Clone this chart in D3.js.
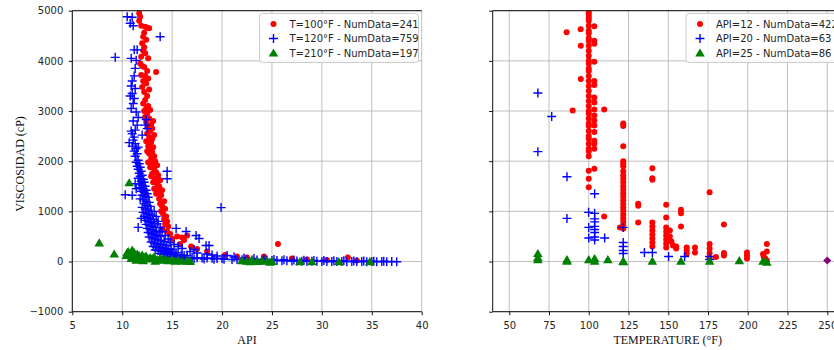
<!DOCTYPE html>
<html>
<head>
<meta charset="utf-8">
<script src="https://cdn.jsdelivr.net/npm/d3@7"></script>
<style>
  body { margin: 0; background: #fff; }
  svg { display: block; }
  .tick text { font-family: "DejaVu Sans", sans-serif; font-size: 10px; fill: #262626; }
  .lbl { font-family: "Liberation Serif", "DejaVu Serif", serif; font-size: 12px; fill: #111; }
  .leg { font-family: "DejaVu Sans", sans-serif; font-size: 10px; fill: #262626; }
</style>
</head>
<body>
<svg id="chart" width="834" height="350"></svg>
<script>
// ticks
const yTicks = [-1000, 0, 1000, 2000, 3000, 4000, 5000]
const leftXTicks = [5, 10, 15, 20, 25, 30, 35, 40]
const rightXTicks = [50, 75, 100, 125, 150, 175, 200, 225, 250]

const leftLabels = ["T=100°F - NumData=241", "T=120°F - NumData=759", "T=210°F - NumData=197"]
const rightLabels = ["API=12 - NumData=422", "API=20 - NumData=63", "API=25 - NumData=86"]

// left panel: [API, viscosidad]
const t100 = [
  [11.7,4950],[11.8,4880],[11.7,4800],[11.9,4700],[12.3,4680],[12.5,4660],[12.7,4650],[12.2,4560],[12.1,4480],
  [12.4,4420],[12.0,4350],[12.2,4270],[12.1,4200],[12.3,4150],[11.9,4080],[12.6,4050],[11.8,3950],[12.0,3900],
  [12.2,3880],[12.5,3800],[13.4,3780],[11.9,3720],[12.3,3700],[12.6,3650],[12.1,3600],[12.4,3550],[12.0,3480],
  [12.7,3430],[12.2,3380],[12.5,3300],[12.3,3220],[12.1,3150],[12.6,3100],[12.4,3050],[12.2,3000],[12.8,3020],
  [12.5,2950],[12.3,2880],[12.7,2850],[13.1,2800],[12.4,2780],[12.9,2720],[12.6,2680],[13.0,2650],[12.8,2600],
  [12.5,2550],[13.2,2520],[12.7,2480],[13.0,2450],[12.4,2400],[12.9,2380],[12.6,2300],[13.1,2280],[12.8,2250],
  [12.5,2200],[13.0,2180],[12.7,2150],[13.2,2100],[12.9,2050],[13.3,2000],[12.6,1980],[13.0,1950],[13.5,1920],
  [12.8,1880],[13.2,1850],[13.4,1780],[13.0,1750],[13.6,1720],[12.9,1700],[13.3,1650],[13.8,1620],[13.1,1580],
  [13.5,1550],[13.7,1500],[13.2,1450],[14.0,1420],[13.6,1400],[13.4,1350],[13.9,1320],[13.7,1250],[14.2,1200],
  [13.8,1150],[14.0,1100],[14.3,1050],[13.9,1000],[14.1,950],[14.4,900],[14.2,850],[14.5,800],[14.3,750],
  [14.6,700],[14.0,650],[14.5,600],[14.8,550],[15.0,450],[15.5,500],[16.0,480],[16.2,430],[16.5,520],
  [15.8,350],[16.9,300],[17.5,250],[18.5,200],[20.3,130],[21.5,100],[22.5,80],[24.2,100],[25.6,350],
  [27.0,60],[28.5,40],[30.5,30],[32.6,80],[33.5,20]
]

const t120 = [
  [10.5,4880],[11.0,4870],[10.8,4750],[11.1,4700],[13.8,4480],[9.3,4070],[10.9,4050],[11.2,4220],[11.5,4220],
  [11.4,4010],[11.3,3850],[11.2,3700],[11.0,3600],[10.9,3500],[11.3,3450],[11.0,3350],[10.8,3300],[11.2,3250],
  [11.1,3150],[10.9,3050],[11.4,2980],[11.6,2870],[12.4,2830],[11.1,2800],[11.5,2720],[11.3,2620],[12.3,2720],
  [10.7,2370],[11.6,2280],[12.0,2520],[12.5,2650],[14.5,1800],[14.5,1650],[10.3,1330],[11.0,1320],[11.6,680],
  [11.9,860],[11.3,1550],[11.4,1450],[19.9,1075],[15.4,660],[16.4,600],[17.4,520],[17.7,460],[18.4,320],[18.7,320],
  [10.9,2600],[11.0,2550],[11.2,2480],[11.1,2420],[11.3,2350],[11.0,2300],[11.4,2250],[11.2,2200],[11.5,2150],
  [11.3,2100],[11.6,2020],[11.4,1980],[11.7,1950],[11.5,1900],[11.8,1880],[11.6,1840],[11.9,1800],[11.7,1760],
  [12.0,1720],[11.8,1700],[11.6,1660],[12.1,1640],[11.9,1600],[12.2,1580],[11.7,1550],[12.0,1520],[12.3,1500],
  [11.8,1470],[12.1,1450],[12.4,1420],[11.9,1400],[12.2,1380],[12.5,1350],[12.0,1320],[12.3,1300],[12.6,1280],
  [11.8,1250],[12.1,1230],[12.4,1200],[12.7,1180],[12.2,1150],[12.5,1120],[12.8,1100],[12.0,1080],[12.3,1050],
  [12.6,1030],[12.9,1000],[12.1,980],[12.4,960],[12.7,940],[13.0,920],[12.2,900],[12.5,880],[12.8,860],
  [13.1,840],[12.3,820],[12.6,800],[12.9,780],[13.2,760],[13.5,750],[12.4,740],[12.7,720],[13.0,700],
  [13.3,680],[12.5,660],[12.8,640],[13.1,620],[13.4,600],[13.7,590],[12.6,580],[12.9,560],[13.2,540],
  [13.5,520],[13.8,500],[12.7,490],[13.0,470],[13.3,450],[13.6,430],[13.9,420],[14.2,400],[12.9,390],
  [13.2,370],[13.5,350],[13.8,340],[14.1,330],[14.4,320],[13.1,300],[13.4,290],[13.7,280],[14.0,270],
  [14.3,260],[14.6,250],[14.9,240],[13.3,230],[13.6,220],[13.9,210],[14.2,200],[14.5,195],[14.8,190],
  [15.1,180],[15.4,175],[13.8,160],[14.1,155],[14.4,150],[14.7,145],[15.0,140],[15.3,135],[15.6,130],
  [15.9,125],[16.2,120],[16.5,115],[14.5,100],[15.0,95],[15.5,90],[16.0,85],[16.5,80],[17.0,78],
  [17.5,75],[18.0,70],[18.5,68],[19.0,65],[19.5,62],[20.0,60],[16.2,60],[17.2,55],[18.2,50],
  [19.2,48],[20.2,45],[21.0,42],[21.5,40],[22.0,38],[22.5,35],[23.0,32],[23.5,30],[24.0,28],
  [24.5,25],[25.0,22],[25.5,20],[26.0,18],[26.5,15],[27.0,12],[27.5,10],[28.0,8],[28.5,6],
  [29.0,5],[29.5,4],[30.0,3],[30.5,2],[31.0,1],[31.5,0],[32.0,0],[32.5,-2],[33.0,0],
  [33.5,-3],[34.0,0],[34.5,-2],[35.0,0],[35.5,-5],[36.0,0],[36.5,-4],[37.0,0],[37.5,-3],
  [20.5,120],[21.2,90],[22.2,70],[23.2,60],[24.2,50],[25.2,40],[26.2,35],[27.2,30],[28.2,25],
  [29.2,20],[30.2,20],[31.2,15],[32.2,15],[33.2,10],[34.2,10],[35.2,8],[36.2,5],[18.5,150],
  [19.0,130],[19.5,110],[17.5,170],[16.8,200],[17.2,240],[16.0,260],[15.6,300],[15.2,340],[14.8,380],
  [14.6,450],[14.3,520],[14.0,600],[13.8,680],[13.6,800],[13.4,900],[13.2,1000]
]

const t210 = [
  [7.7,370],[9.2,150],[10.7,1570],[10.4,120],[10.5,180],[10.6,200],[10.8,150],[11.0,230],[11.0,100],
  [11.2,180],[11.3,80],[11.5,150],[11.7,120],[11.8,60],[12.0,130],[12.2,90],[12.4,110],[12.6,50],
  [12.8,80],[13.0,60],[13.2,90],[13.5,40],[13.8,70],[14.0,30],[14.3,50],[14.6,20],[15.0,40],
  [15.3,10],[15.6,30],[16.0,10],[16.5,20],[16.8,5],[11.4,30],[12.1,20],[13.3,10],[10.9,60],
  [22.0,20],[22.5,10],[23.0,30],[23.5,5],[24.0,20],[24.5,10],[25.0,5],[27.8,0],[29.0,0],
  [31.7,0],[34.8,0],[24.8,-10],[22.8,0]
]

// right panel: [temperatura, viscosidad]
const api12 = [
  [100,5000],[100,4950],[100,4900],[100,4850],[100,4800],[100,4700],[100,4600],[100,4550],[100,4450],
  [100,4400],[100,4300],[100,4200],[100,4100],[100,4000],[100,3950],[100,3850],[100,3800],[100,3700],
  [100,3600],[100,3500],[100,3400],[100,3300],[100,3200],[100,3100],[100,3000],[100,2950],[100,2850],
  [100,2750],[100,2700],[100,2600],[100,2500],[100,2450],[100,2350],[100,2250],[100,2200],[100,2100],
  [100,1810],[100,1650],[100,1480],
  [103.5,4690],[103.5,4400],[103.5,4340],[103.5,3980],[103.5,3600],[103.5,3520],[103.5,3270],[103.5,3170],
  [103.5,3030],[103.5,2910],[103.5,2810],[103.5,2710],[103.5,2580],[103.5,2410],[103.5,2350],[103.5,2250],[103.5,1850],
  [86.1,4570],[94.9,4630],[95,4300],[95,3640],[89.9,3010],[109.7,3030],[109.7,900],[119.6,680],
  [121.7,2750],[121.7,2700],[121.7,2300],[121.7,2000],[121.7,1950],[121.7,1900],[121.7,1800],[121.7,1720],
  [121.7,1650],[121.7,1580],[121.7,1500],[121.7,1430],[121.7,1360],[121.7,1290],[121.7,1220],[121.7,1150],
  [121.7,1080],[121.7,1010],[121.7,940],[121.7,870],[121.7,800],[121.7,730],[121.7,660],
  [131.1,1150],[131.1,1110],[131.1,780],
  [140,1860],[140,1660],[140,1630],[140,780],[140,700],[140,620],[140,540],[140,460],[140,380],[140,300],
  [148.7,1130],[148.7,880],[148.7,680],[148.7,600],[148.7,520],[148.7,440],[148.7,360],[148.7,280],
  [151,620],[151,500],[152,400],[153,320],[155,300],[155,260],
  [158,1030],[158,960],[158,700],[161.6,280],[161.6,220],[161.6,150],[166.8,280],[166.8,180],
  [176,1380],[176,350],[176,260],[176,170],[176,80],[180,90],[185,740],[185,170],[185,120],
  [199.5,180],[199.5,120],[199.5,60],[209.6,150],[210,100],[211,60],[212,350],[212,200],[212,20]
]

const api20 = [
  [68,3360],[76.7,2890],[68,2190],[86.3,1690],[86.3,860],[103.7,1350],[99.9,980],[103.7,960],[103.7,850],
  [103.7,790],[103.7,700],[103.7,640],[103.7,580],[103.7,490],[103.7,430],[100,680],[100,470],[110,470],
  [121.7,680],[121.7,380],[121.7,300],[121.7,220],[121.7,160],[135,180],[140,180],[150.2,100],[160.3,100],
  [176,100],[176,40]
]

const api25 = [
  [68,160],[68,80],[68,40],[86.3,40],[86.3,10],[100,40],[103.7,60],[103.7,10],[112,40],[121.7,10],
  [121.7,0],[140,10],[158,10],[176,10],[194.7,20],[209.6,10],[212,-10]
]

const extra = [[250,20]]

const svg = d3.select("#chart")
const plotTop = 10.7, plotBottom = 311.7

const y = d3.scaleLinear().domain([-1000, 5000]).range([plotBottom, plotTop])

const markers = {
  dot: g => g.append("circle").attr("r", 3).attr("fill", "#ff0000"),
  plus: g => g.append("path").attr("d", "M-4.5,0H4.5M0,-4.5V4.5").attr("stroke", "#0000ff").attr("stroke-width", 1.4).attr("fill", "none"),
  tri: g => g.append("path").attr("d", "M0,-4.6L4.8,3.6L-4.8,3.6Z").attr("fill", "#008000"),
  dia: g => g.append("path").attr("d", "M0,-4L4,0L0,4L-4,0Z").attr("fill", "#800080")
}

function drawPanel(opts) {
  const x = d3.scaleLinear().domain(opts.domain).range(opts.range)
  const left = opts.range[0], right = opts.range[1]
  const id = opts.id

  svg.append("clipPath").attr("id", id)
    .append("rect").attr("x", left).attr("y", plotTop).attr("width", right - left).attr("height", plotBottom - plotTop)

  // grid
  const grid = svg.append("g").attr("stroke", "#b0b0b0").attr("stroke-width", 0.8)
  grid.selectAll(".gx").data(opts.xTicks).join("line")
    .attr("x1", d => x(d)).attr("x2", d => x(d)).attr("y1", plotTop).attr("y2", plotBottom)
  grid.selectAll(".gy").data(yTicks).join("line")
    .attr("x1", left).attr("x2", right).attr("y1", d => y(d)).attr("y2", d => y(d))

  const plot = svg.append("g").attr("clip-path", "url(#" + id + ")")
  opts.series.forEach(s => {
    plot.append("g").selectAll("g").data(s.data).join("g")
      .attr("transform", d => "translate(" + x(d[0]) + "," + y(d[1]) + ")")
      .each(function() { markers[s.marker](d3.select(this)) })
  })

  // axes
  const xa = svg.append("g").attr("transform", "translate(0," + plotBottom + ")")
    .call(d3.axisBottom(x).tickValues(opts.xTicks).tickSize(3.5).tickSizeOuter(0).tickPadding(6.5))
  xa.select(".domain").remove()
  const ya = svg.append("g").attr("transform", "translate(" + left + ",0)")
    .call(d3.axisLeft(y).tickValues(yTicks).tickSize(3.5).tickSizeOuter(0).tickPadding(5.5)
      .tickFormat(opts.yLabels ? (d => d < 0 ? "\u2212" + Math.abs(d) : d) : ""))
  ya.select(".domain").remove()
  svg.selectAll(".tick line").attr("stroke", "#111")

  // spines
  const sp = svg.append("g").attr("stroke", "#111").attr("stroke-width", 1)
  sp.append("line").attr("x1", left).attr("x2", left).attr("y1", plotTop).attr("y2", plotBottom)
  sp.append("line").attr("x1", left).attr("x2", right).attr("y1", plotTop).attr("y2", plotTop)
  sp.append("line").attr("x1", left).attr("x2", right).attr("y1", plotBottom).attr("y2", plotBottom)

  // legend
  const lg = svg.append("g").attr("transform", "translate(" + opts.legendX + ",13.5)")
  lg.append("rect").attr("width", 159).attr("height", 49).attr("rx", 3)
    .attr("fill", "#fff").attr("fill-opacity", 0.8).attr("stroke", "#cccccc")
  opts.labels.forEach((t, i) => {
    const row = lg.append("g").attr("transform", "translate(0," + (10.5 + i * 14.5) + ")")
    markers[opts.series[i].marker](row.append("g").attr("transform", "translate(14,0)"))
    row.append("text").attr("class", "leg").attr("x", 30).attr("dy", "0.35em").text(t)
  })

  svg.append("text").attr("class", "lbl").attr("x", (left + right) / 2).attr("y", 344)
    .attr("text-anchor", "middle").text(opts.xLabel)
}

drawPanel({
  id: "clipL", domain: [5, 40], range: [72.3, 421.7], xTicks: leftXTicks, yLabels: true,
  series: [{ data: t100, marker: "dot" }, { data: t120, marker: "plus" }, { data: t210, marker: "tri" }],
  labels: leftLabels, legendX: 259.5, xLabel: "API"
})

drawPanel({
  id: "clipR", domain: [39.6, 259.7], range: [492.7, 842.7], xTicks: rightXTicks, yLabels: false,
  series: [{ data: api12, marker: "dot" }, { data: api20, marker: "plus" }, { data: api25, marker: "tri" }, { data: extra, marker: "dia" }],
  labels: rightLabels, legendX: 686, xLabel: "TEMPERATURE (°F)"
})

svg.append("text").attr("class", "lbl")
  .attr("transform", "translate(24,164) rotate(-90)")
  .attr("text-anchor", "middle").text("VISCOSIDAD (cP)")
</script>
</body>
</html>
